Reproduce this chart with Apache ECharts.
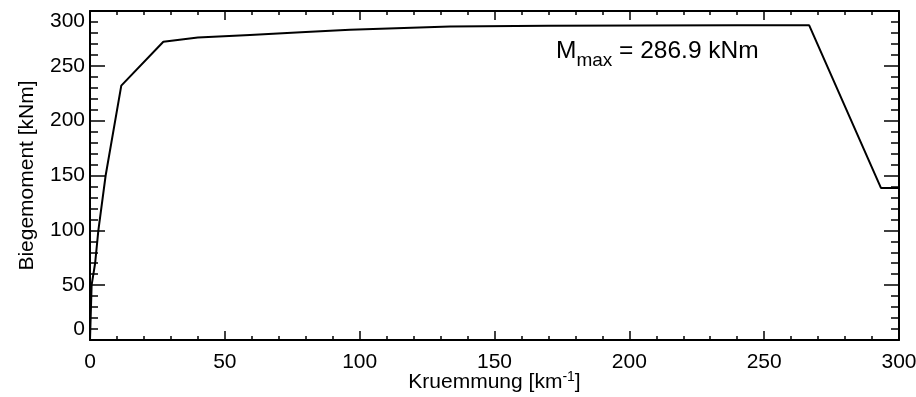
<!DOCTYPE html>
<html>
<head>
<meta charset="utf-8">
<script src="https://cdn.jsdelivr.net/npm/echarts@6/dist/echarts.min.js"></script>
<style>
  html, body { margin: 0; padding: 0; background: #fff; }
  #chart { width: 916px; height: 397px; }
</style>
</head>
<body>
<div id="chart"></div>
<script>
// Kruemmung [km^-1] und Biegemoment [kNm]
var kruemmung = [0, 0.6, 1.9, 3.1, 5.8, 11.6, 27.2, 40, 59.3, 80, 96.4, 133.5, 170, 203.9, 240, 266.7, 293.3, 300];
var moment = [0, 50, 70, 100, 150, 232, 272, 275.8, 278.2, 280.8, 282.8, 285.8, 286.6, 286.8, 286.9, 286.9, 138.7, 138.7];
var xTicks = [0, 50, 100, 150, 200, 250, 300];
var yTicks = [0, 50, 100, 150, 200, 250, 300];

(function () {
    var myChart = echarts.init(document.getElementById("chart"));

    var font = "Liberation Sans, Arial, sans-serif";
    var black = "#000";

    // gemeinsamer Achsenstil (Ticks nach innen, wie IDL)
    function axis(opt) {
        var base = {
            min: 0,
            max: 300,
            interval: 50,
            axisLine: { show: true, onZero: false, lineStyle: { color: black, width: 2 } },
            splitLine: { show: false },
            axisLabel: { show: false },
        };
        return Object.assign(base, opt);
    }

    var option = {
        animation: false,
        textStyle: { fontFamily: font },
        grid: [
            { left: 90, right: 17, top: 11, bottom: 57, outerBoundsMode: "none", containLabel: false },
            // unteres Diagramm, nur angeschnitten
            { left: 90, right: 17, top: 396, height: 300, outerBoundsMode: "none", containLabel: false },
        ],
        xAxis: [
            axis({
                type: "value",
                position: "bottom",
                name: "Kruemmung [{sup|km}{s|-1}{sup|]}",
                nameLocation: "middle",
                nameGap: 30,
                nameMoveOverlap: false,
                nameTextStyle: {
                    color: black, fontSize: 21, fontFamily: font,
                    rich: {
                        sup: { fontSize: 21, color: black, fontFamily: font },
                        s: { fontSize: 14, color: black, fontFamily: font, padding: [0, 0, 10, 0] },
                    },
                },
                axisTick: { show: true, inside: true, length: 9, lineStyle: { color: black, width: 1.5 } },
                minorTick: { show: true, splitNumber: 5, length: 4, lineStyle: { color: black, width: 1.5 } },
                axisLabel: {
                    show: true, color: black, fontSize: 21, margin: 12, fontFamily: font,
                    formatter: function (v) { return xTicks.indexOf(v) >= 0 ? String(v) : ""; },
                },
            }),
            axis({
                type: "value",
                position: "top",
                axisTick: { show: true, inside: true, length: 9, lineStyle: { color: black, width: 1.5 } },
                minorTick: { show: true, splitNumber: 5, length: 4, lineStyle: { color: black, width: 1.5 } },
            }),
            axis({
                type: "value",
                gridIndex: 1,
                position: "top",
                axisLine: { show: true, lineStyle: { color: "#888", width: 1 } },
                axisTick: { show: false },
            }),
        ],
        yAxis: [
            axis({
                type: "value",
                position: "left",
                name: "Biegemoment [kNm]",
                nameLocation: "middle",
                nameGap: 52,
                nameMoveOverlap: false,
                nameTextStyle: { color: black, fontSize: 21, fontFamily: font },
                axisTick: { show: true, inside: true, length: 15, lineStyle: { color: black, width: 1.5 } },
                minorTick: { show: true, splitNumber: 5, length: 8, lineStyle: { color: black, width: 1.5 } },
                axisLabel: {
                    show: true, color: black, fontSize: 21, margin: 5, fontFamily: font,
                    verticalAlignMinLabel: "bottom",
                    verticalAlignMaxLabel: "top",
                    formatter: function (v) { return yTicks.indexOf(v) >= 0 ? String(v) : ""; },
                },
            }),
            axis({
                type: "value",
                position: "right",
                axisTick: { show: true, inside: true, length: 15, lineStyle: { color: black, width: 1.5 } },
                minorTick: { show: true, splitNumber: 5, length: 8, lineStyle: { color: black, width: 1.5 } },
            }),
            axis({
                type: "value",
                gridIndex: 1,
                axisLine: { show: false },
                axisTick: { show: false },
            }),
        ],
        graphic: [
            {
                type: "text",
                left: 556,
                top: 39,
                style: {
                    text: "{m|M}{s|max}{m| = 286.9 kNm}",
                    rich: {
                        m: { fontSize: 24.5, fill: black, fontFamily: font, lineHeight: 28, verticalAlign: "top" },
                        s: { fontSize: 19, fill: black, fontFamily: font, lineHeight: 28, verticalAlign: "top", padding: [12, 0, 0, 0] },
                    },
                },
            },
        ],
        series: [
            {
                name: "Biegemoment",
                type: "line",
                xAxisIndex: 0,
                yAxisIndex: 0,
                showSymbol: false,
                symbol: "none",
                clip: true,
                lineStyle: { color: black, width: 2 },
                data: kruemmung.map(function (k, i) { return [k, moment[i]]; }),
            },
        ],
    };

    myChart.setOption(option);
})();
</script>
</body>
</html>
